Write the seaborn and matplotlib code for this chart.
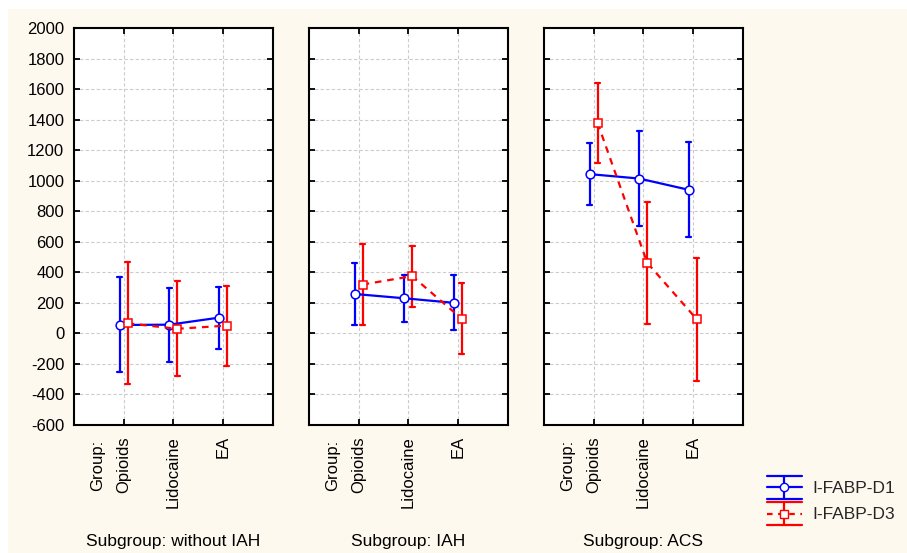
import numpy as np
import pandas as pd
import matplotlib
matplotlib.use("Agg")
import matplotlib.pyplot as plt
import seaborn as sns
from matplotlib.lines import Line2D
from matplotlib.legend_handler import HandlerBase
from matplotlib.patches import Rectangle

# ---- data -------------------------------------------------------------
subgroups = ["without IAH", "IAH", "ACS"]
groups = ["Opioids", "Lidocaine", "EA"]
series = ["I-FABP-D1", "I-FABP-D3"]

# mean per subgroup (rows) and group (columns), with half-width of the interval
d1_mean = [[55, 57, 103], [258, 230, 200], [1043, 1014, 940]]
d1_err = [[311, 243, 204], [205, 155, 180], [202, 312, 312]]
d3_mean = [[66, 30, 51], [320, 375, 95], [1378, 462, 92]]
d3_err = [[400, 311, 262], [265, 200, 233], [265, 400, 402]]

y_ticks = list(range(-600, 2001, 200))

# Each cell is represented by (mean - err, mean, mean + err): the mean of the
# three is the cell mean and their full range is the interval.
rows = []
for si, sg in enumerate(subgroups):
    for gi, g in enumerate(groups):
        for name, means, errs in ((series[0], d1_mean, d1_err),
                                  (series[1], d3_mean, d3_err)):
            m, e = means[si][gi], errs[si][gi]
            for v in (m - e, m, m + e):
                rows.append({"Subgroup": sg, "Group": g, "Series": name, "value": v})
df = pd.DataFrame(rows)

# ---- style ------------------------------------------------------------
sns.set_theme(style="white")
plt.rcParams["font.family"] = ["Liberation Sans", "DejaVu Sans"]
plt.rcParams["axes.edgecolor"] = "black"
plt.rcParams["axes.linewidth"] = 1.5
plt.rcParams["axes.unicode_minus"] = False

BLUE = "#0000FF"
RED = "#FF0000"
palette = [BLUE, RED]
CREAM = "#FEF9EE"

W, H = 907, 553
fig = plt.figure(figsize=(W / 100, H / 100), dpi=100, facecolor="white")
fig.patches.append(Rectangle((8 / W, 0), 1, 1 - 9 / H, transform=fig.transFigure,
                             facecolor=CREAM, edgecolor="none", zorder=-10))

lefts = [74, 309, 544]
ax_w, ax_top, ax_bot = 198.5, 28, 425

for i, sg in enumerate(subgroups):
    ax = fig.add_axes([lefts[i] / W, 1 - ax_bot / H, ax_w / W, (ax_bot - ax_top) / H])
    ax.set_facecolor("white")
    sub = df[df["Subgroup"] == sg]
    sns.pointplot(data=sub, x="Group", y="value", hue="Series",
                  order=groups, hue_order=series, palette=palette,
                  estimator="mean", errorbar=("pi", 100),
                  markers=["o", "s"], linestyles=["-", "--"],
                  dodge=0.16, capsize=0.1, linewidth=1.6,
                  err_kws={"linewidth": 1.6}, legend=False, ax=ax)

    for ln in ax.lines:
        mk = ln.get_marker()
        if mk not in (None, "", "None", "none"):
            ln.set_markerfacecolor("white")
            ln.set_markersize(6.3)
            ln.set_markeredgewidth(1.1)
            ln.set_zorder(5)
            if ln.get_linestyle() == "--":
                ln.set_dashes([3, 2.6])
        else:
            ln.set_zorder(3)

    ax.set_xlim(-1, 3)
    ax.set_ylim(-600, 2000)
    ax.set_yticks(y_ticks)
    ax.set_xticks(range(len(groups)))
    ax.set_xticklabels(groups, rotation=90, va="top", ha="center", fontsize=12)
    ax.set_xlabel("")
    ax.set_ylabel("")
    ax.grid(True, linestyle=(0, (3, 2)), color="#cccccc", linewidth=0.8)
    ax.set_axisbelow(True)
    ax.tick_params(axis="both", direction="in", length=4, width=1.3, color="black",
                   top=True, right=True, bottom=True, left=True, labelsize=12,
                   labelcolor="black")
    ax.tick_params(axis="x", pad=8)
    ax.tick_params(axis="y", pad=7)
    if i > 0:
        ax.tick_params(axis="y", labelleft=False)
    for sp in ax.spines.values():
        sp.set_linewidth(1.5)
        sp.set_color("black")

    ax.annotate("Group:", xy=(0, 0), xycoords=ax.get_xaxis_transform(),
                xytext=(-19, -10.5), textcoords="offset points",
                rotation=90, ha="center", va="top", fontsize=12, color="black")
    ax.annotate(f"Subgroup: {sg}", xy=(0.5, 0), xycoords="axes fraction",
                xytext=(0, -84), textcoords="offset points",
                ha="center", va="center", fontsize=12.5, color="black")


class ErrorbarKeyHandler(HandlerBase):
    """Legend key: capped vertical bar with the series line and marker."""

    half = 8.2  # half height of the key, in points

    def create_artists(self, legend, orig_handle, xdescent, ydescent,
                       width, height, fontsize, trans):
        x0 = -xdescent
        x1 = x0 + width
        xm = (x0 + x1) / 2
        ym = -ydescent + height / 2
        y0 = ym - self.half
        y1 = ym + self.half
        c = orig_handle.get_color()
        lw = orig_handle.get_linewidth()
        arts = [Line2D([x0, x1], [y0, y0], color=c, lw=lw),
                Line2D([x0, x1], [y1, y1], color=c, lw=lw),
                Line2D([xm, xm], [y0, y1], color=c, lw=lw)]
        mid = Line2D([x0, x1], [ym, ym], color=c, lw=lw)
        if orig_handle.get_linestyle() == "--":
            mid.set_dashes([2.5, 2.5])
        arts.append(mid)
        arts.append(Line2D([xm], [ym], marker=orig_handle.get_marker(),
                           markersize=6, markerfacecolor="white",
                           markeredgecolor=c, markeredgewidth=1.0,
                           linestyle="none"))
        for a in arts:
            a.set_transform(trans)
        return arts


handles = [Line2D([], [], color=BLUE, lw=1.6, ls="-", marker="o"),
           Line2D([], [], color=RED, lw=1.6, ls="--", marker="s")]
fig.legend(handles=handles, labels=series,
           handler_map={Line2D: ErrorbarKeyHandler()},
           loc="center left", bbox_to_anchor=(767 / W, 1 - 501 / H),
           frameon=False, fontsize=12.5, handlelength=2.0, handleheight=1.0,
           labelspacing=0.55, handletextpad=0.6, borderpad=0, borderaxespad=0)

fig.savefig("out.png", dpi=100, facecolor=fig.get_facecolor())
